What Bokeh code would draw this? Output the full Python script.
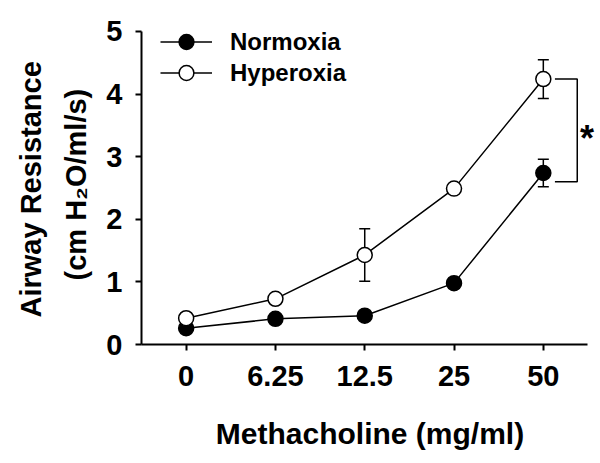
from bokeh.plotting import figure
from bokeh.models import (Range1d, FixedTicker, Whisker, ColumnDataSource, Legend,
                          LegendItem, Label, TeeHead, Title)
from bokeh.embed import file_html
from bokeh.resources import INLINE

# ---- data ----
doses = ["0", "6.25", "12.5", "25", "50"]
normoxia = [0.26, 0.41, 0.46, 0.98, 2.74]
normoxia_err = [0.0, 0.0, 0.0, 0.0, 0.22]
hyperoxia = [0.42, 0.73, 1.43, 2.49, 4.24]
hyperoxia_err = [0.0, 0.0, 0.42, 0.0, 0.31]
y_ticks = [0, 1, 2, 3, 4, 5]
bracket_y = [4.24, 2.60]
sig_label = "*"
y_label_lines = ["Airway Resistance", "(cm H\u2082O/ml/s)"]

FONT = "Liberation Sans"
xs = list(range(len(doses)))

# frame extends a little above the y-axis top so the legend is not clipped
p = figure(width=600, height=463, output_backend="svg", toolbar_location=None,
           x_range=Range1d(-0.5, 4.618), y_range=Range1d(0, 5.415),
           min_border_left=141, min_border_top=5, min_border_bottom=119,
           min_border_right=2)
p.outline_line_color = None
p.xgrid.visible = False
p.ygrid.visible = False
p.background_fill_color = "white"

# axes
for ax in (p.xaxis[0], p.yaxis[0]):
    ax.axis_line_width = 2
    ax.axis_line_color = "black"
    ax.major_tick_line_width = 2
    ax.major_tick_line_color = "black"
    ax.major_tick_in = 0
    ax.major_tick_out = 6
    ax.minor_tick_line_color = None
    ax.major_label_text_font = FONT
    ax.major_label_text_font_style = "bold"
    ax.major_label_text_font_size = "29px"
    ax.major_label_text_color = "black"
    ax.axis_label_text_font = FONT
    ax.axis_label_text_font_style = "bold"
    ax.axis_label_text_font_size = "30px"
    ax.axis_label_text_color = "black"

p.xaxis.ticker = FixedTicker(ticks=xs)
p.xaxis.major_label_overrides = {i: d for i, d in zip(xs, doses)}
p.xaxis.bounds = (-0.5, len(doses) - 0.5)
p.xaxis.axis_label = "Methacholine (mg/ml)"
p.xaxis.major_label_standoff = 15
p.xaxis.axis_label_standoff = 28

p.yaxis.ticker = FixedTicker(ticks=y_ticks)
p.yaxis.bounds = (y_ticks[0], y_ticks[-1])
p.yaxis.major_label_standoff = 13

# y-axis label as two left-side titles (start-aligned, offset from the frame bottom)
for line, so, off in ((y_label_lines[1], 23, 64), (y_label_lines[0], 0, 27)):
    t = Title(text=line, align="left", offset=off, standoff=so,
              text_font=FONT, text_font_style="bold", text_font_size="29px",
              text_color="black")
    p.add_layout(t, "left")

# error bars
def err_source(vals, errs):
    xx, lo, hi = [], [], []
    for x, v, e in zip(xs, vals, errs):
        if e > 0:
            xx.append(x); lo.append(v - e); hi.append(v + e)
    return ColumnDataSource(dict(x=xx, lower=lo, upper=hi))

for vals, errs in ((normoxia, normoxia_err), (hyperoxia, hyperoxia_err)):
    w = Whisker(source=err_source(vals, errs), base="x", upper="upper", lower="lower",
                line_width=1.5, line_color="black",
                upper_head=TeeHead(size=11, line_width=1.5, line_color="black"),
                lower_head=TeeHead(size=11, line_width=1.5, line_color="black"),
                level="underlay")
    p.add_layout(w)

ln_n = p.line(xs, normoxia, line_color="black", line_width=1.5)
sc_n = p.scatter(xs, normoxia, size=15, fill_color="black", line_color="black", line_width=1.5)
ln_h = p.line(xs, hyperoxia, line_color="black", line_width=1.5)
sc_h = p.scatter(xs, hyperoxia, size=15, fill_color="white", line_color="black", line_width=1.5)

# significance bracket
xb = xs[-1]
p.line([xb + 0.13, xb + 0.38, xb + 0.38, xb + 0.13],
       [bracket_y[0], bracket_y[0], bracket_y[1], bracket_y[1]],
       line_color="black", line_width=1.5)
p.add_layout(Label(x=xb + 0.49, y=(bracket_y[0] + bracket_y[1]) / 2, text=sig_label,
                   text_font=FONT, text_font_style="bold", text_font_size="36px",
                   text_color="black",
                   text_align="center", text_baseline="middle", y_offset=-8))

# legend (two single-item legends to control row spacing)
for i, (name, rs) in enumerate((("Normoxia", [ln_n, sc_n]), ("Hyperoxia", [ln_h, sc_h]))):
    lg = Legend(items=[LegendItem(label=name, renderers=rs)],
                location=(19, 284 - 31 * i), glyph_width=52, glyph_height=37,
                label_standoff=18, padding=0, margin=0, spacing=0,
                border_line_color=None, background_fill_alpha=0,
                label_text_font=FONT, label_text_font_style="bold",
                label_text_font_size="24px", label_text_color="black")
    p.add_layout(lg, "center")

open("out.html", "w").write(file_html(p, INLINE))
